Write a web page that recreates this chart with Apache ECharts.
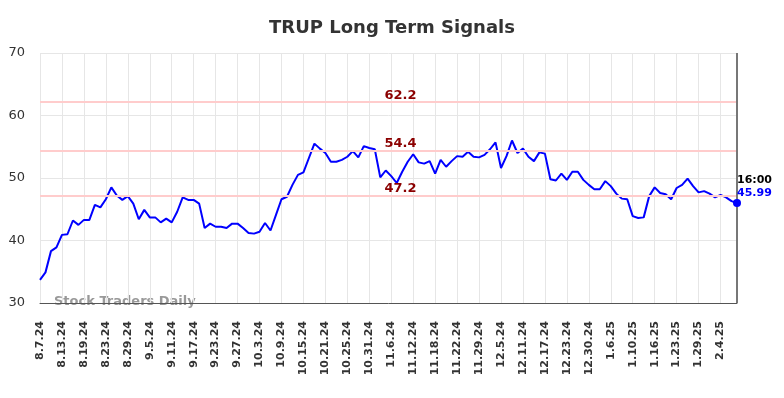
<!DOCTYPE html>
<html>
<head>
<meta charset="utf-8">
<title>TRUP Long Term Signals</title>
<script src="https://cdn.jsdelivr.net/npm/echarts@6/dist/echarts.min.js"></script>
<style>
  html, body { margin: 0; padding: 0; background: #fff; }
  #chart { width: 784px; height: 398px; }
</style>
</head>
<body>
<div id="chart"></div>
<script>
// trading days, 8.7.24 .. 2.7.25
var dates = [
  '8.7.24','8.8.24','8.9.24','8.12.24','8.13.24','8.14.24','8.15.24','8.16.24','8.19.24','8.20.24',
  '8.21.24','8.22.24','8.23.24','8.26.24','8.27.24','8.28.24','8.29.24','8.30.24',
  '9.3.24','9.4.24','9.5.24','9.6.24','9.9.24','9.10.24','9.11.24','9.12.24','9.13.24','9.16.24',
  '9.17.24','9.18.24','9.19.24','9.20.24','9.23.24','9.24.24','9.25.24','9.26.24','9.27.24','9.30.24',
  '10.1.24','10.2.24','10.3.24','10.4.24','10.7.24','10.8.24','10.9.24','10.10.24','10.11.24','10.14.24',
  '10.15.24','10.16.24','10.17.24','10.18.24','10.21.24','10.22.24','10.23.24','10.24.24','10.25.24',
  '10.28.24','10.29.24','10.30.24','10.31.24',
  '11.1.24','11.4.24','11.5.24','11.6.24','11.7.24','11.8.24','11.11.24','11.12.24','11.13.24','11.14.24',
  '11.15.24','11.18.24','11.19.24','11.20.24','11.21.24','11.22.24','11.25.24','11.26.24','11.27.24','11.29.24',
  '12.2.24','12.3.24','12.4.24','12.5.24','12.6.24','12.9.24','12.10.24','12.11.24','12.12.24','12.13.24',
  '12.16.24','12.17.24','12.18.24','12.19.24','12.20.24','12.23.24','12.24.24','12.26.24','12.27.24','12.30.24','12.31.24',
  '1.2.25','1.3.25','1.6.25','1.7.25','1.8.25','1.9.25','1.10.25','1.13.25','1.14.25','1.15.25',
  '1.16.25','1.17.25','1.21.25','1.22.25','1.23.25','1.24.25','1.27.25','1.28.25','1.29.25','1.30.25','1.31.25',
  '2.3.25','2.4.25','2.5.25','2.6.25','2.7.25'
];

var prices = [
  33.7, 34.9, 38.3, 38.9, 40.9, 41.0, 43.2, 42.5, 43.3, 43.3,
  45.7, 45.3, 46.6, 48.5, 47.2, 46.5, 47.1, 45.9, 43.4, 44.9,
  43.7, 43.7, 42.9, 43.5, 42.9, 44.6, 46.9, 46.5, 46.5, 45.9,
  42.0, 42.7, 42.2, 42.2, 42.0, 42.7, 42.7, 42.0, 41.2, 41.1,
  41.4, 42.8, 41.6, 44.1, 46.6, 47.0, 48.9, 50.5, 50.9, 53.2,
  55.5, 54.7, 54.0, 52.6, 52.6, 52.9, 53.4, 54.3, 53.3, 55.1,
  54.8, 54.6, 50.1, 51.2, 50.3, 49.2, 51.0, 52.6, 53.8, 52.5,
  52.3, 52.7, 50.7, 52.9, 51.8, 52.7, 53.5, 53.4, 54.2, 53.4,
  53.3, 53.7, 54.6, 55.7, 51.6, 53.5, 56.0, 54.0, 54.7, 53.4,
  52.7, 54.1, 53.9, 49.8, 49.6, 50.7, 49.7, 51.0, 51.0, 49.7,
  48.9, 48.2, 48.2, 49.5, 48.7, 47.5, 46.7, 46.6, 43.9, 43.6,
  43.7, 47.1, 48.5, 47.6, 47.4, 46.6, 48.4, 48.9, 49.9, 48.7,
  47.7, 47.9, 47.5, 46.9, 47.3, 46.9, 46.3, 45.99
];

var signalLevels = [62.2, 54.4, 47.2];
var lastTime = '16:00';

var yTicks = { min: 30, max: 70, interval: 10 };

var lastIdx = prices.length - 1;

var option = {
  animation: false,
  title: {
    text: 'TRUP Long Term Signals',
    left: 'center',
    top: 14,
    textStyle: { fontFamily: 'DejaVu Sans', fontSize: 18, fontWeight: 'bold', color: '#333' }
  },
  grid: { left: 40, right: 47, top: 53, bottom: 95 },
  xAxis: {
    type: 'category',
    data: dates,
    boundaryGap: false,
    axisLine: { lineStyle: { color: '#555', width: 1 } },
    axisTick: { show: false },
    axisLabel: {
      interval: 3,
      rotate: 90,
      margin: 18,
      fontFamily: 'DejaVu Sans',
      fontSize: 11,
      fontWeight: 'bold',
      color: '#333'
    },
    splitLine: { show: true, interval: 3, lineStyle: { color: '#e6e6e6' } }
  },
  yAxis: {
    type: 'value',
    min: yTicks.min,
    max: yTicks.max,
    interval: yTicks.interval,
    axisLine: { show: false },
    axisTick: { show: false },
    axisLabel: { fontFamily: 'DejaVu Sans', fontSize: 13, color: '#333', margin: 15 },
    splitLine: { lineStyle: { color: '#e6e6e6' } }
  },
  series: [
    {
      type: 'line',
      data: prices,
      showSymbol: false,
      lineStyle: { color: '#0000ff', width: 2 },
      itemStyle: { color: '#0000ff' },
      markLine: {
        silent: true,
        symbol: 'none',
        data: signalLevels.map(function (v) {
          return {
            yAxis: v,
            lineStyle: { color: '#ffcccc', width: 2, type: 'solid' },
            label: {
              show: true,
              position: 'insideMiddleTop',
              distance: 0,
              formatter: String(v),
              color: '#8b0000',
              fontFamily: 'DejaVu Sans',
              fontSize: 13,
              fontWeight: 'bold',
              padding: [0, 0, 0, 24]
            }
          };
        }).concat([{
          xAxis: lastIdx,
          lineStyle: { color: '#777', width: 2, type: 'solid' },
          label: { show: false }
        }])
      },
      markPoint: {
        silent: true,
        data: [{
          coord: [lastIdx, prices[lastIdx]],
          symbol: 'circle',
          symbolSize: 8,
          itemStyle: { color: '#0000ff' },
          label: {
            show: true,
            position: [4, -25],
            align: 'left',
            verticalAlign: 'top',
            formatter: '{t|' + lastTime + '}\n{v|' + prices[lastIdx].toFixed(2) + '}',
            rich: {
              t: { color: '#000', fontFamily: 'DejaVu Sans', fontSize: 11, fontWeight: 'bold', lineHeight: 13 },
              v: { color: '#0000ff', fontFamily: 'DejaVu Sans', fontSize: 11, fontWeight: 'bold', lineHeight: 13 }
            }
          }
        }]
      }
    }
  ],
  graphic: [{
    type: 'text',
    left: 54,
    top: 295,
    style: {
      text: 'Stock Traders Daily',
      fill: '#999',
      font: 'bold 13px "DejaVu Sans"'
    }
  }]
};

var myChart = echarts.init(document.getElementById('chart'));
myChart.setOption(option);
</script>
</body>
</html>
